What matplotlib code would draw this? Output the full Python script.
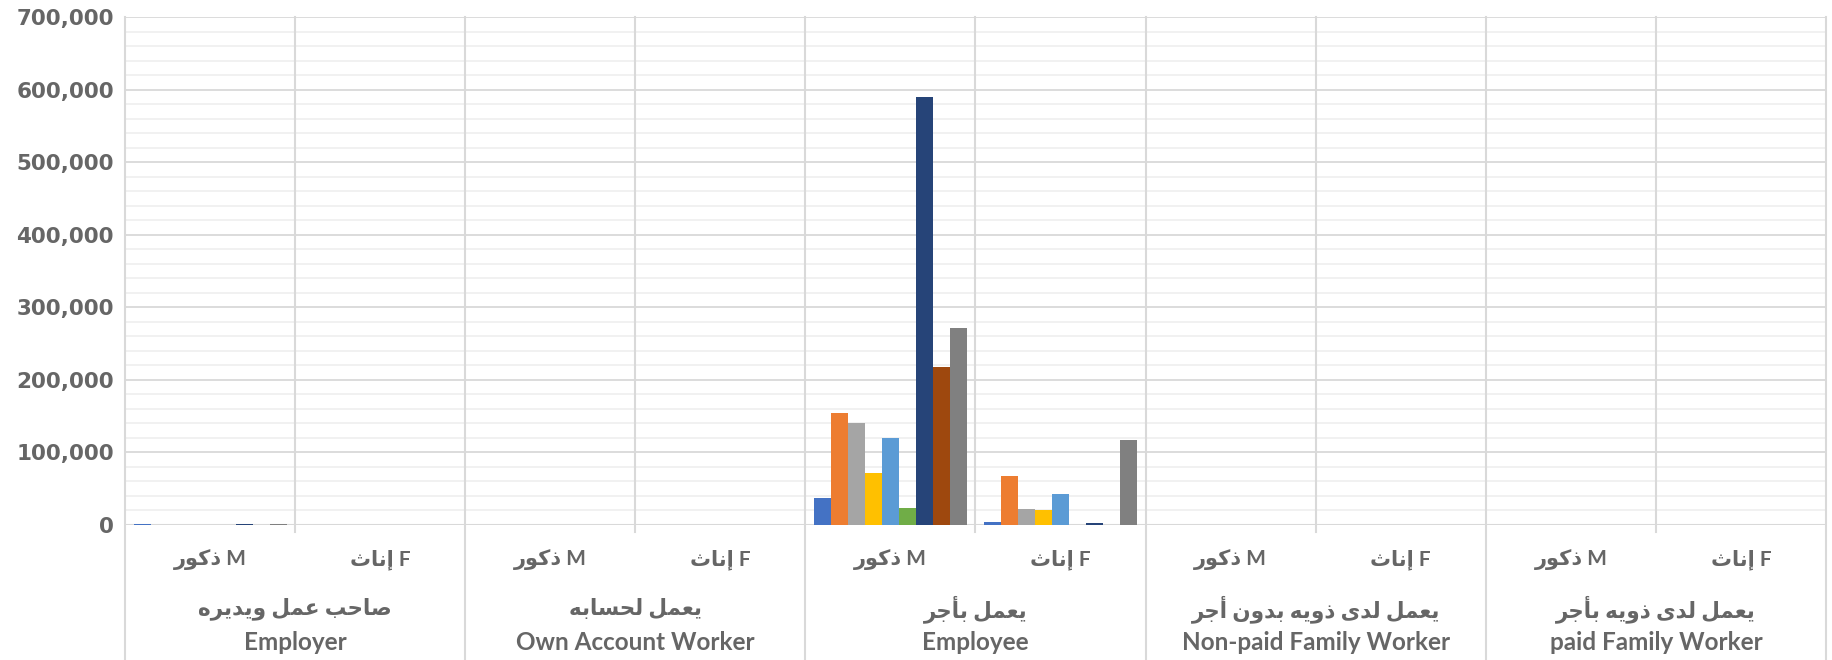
import matplotlib
matplotlib.use("Agg")
import matplotlib.pyplot as plt
import matplotlib.transforms as mtransforms
from matplotlib.ticker import FuncFormatter, MultipleLocator

# categories (two-level axis: status x sex)
categories_ar = ["صاحب عمل ويديره", "يعمل لحسابه", "يعمل بأجر",
                 "يعمل لدى ذويه بدون أجر", "يعمل لدى ذويه بأجر"]
categories_en = ["Employer", "Own Account Worker", "Employee",
                 "Non-paid Family Worker", "paid Family Worker"]
sex_ar = ["ذكور", "إناث"]
sex_en = ["M", "F"]

# one value per slot: Employer M, Employer F, Own M, Own F, Employee M, Employee F, ...
series_1 = [1800, 0, 0, 0, 37000, 3700, 0, 0, 0, 0]
series_2 = [0, 0, 0, 0, 155000, 67500, 0, 0, 0, 0]
series_3 = [0, 0, 0, 0, 141000, 22000, 0, 0, 0, 0]
series_4 = [0, 0, 0, 0, 71000, 20700, 0, 0, 0, 0]
series_5 = [0, 0, 0, 0, 120000, 42300, 0, 0, 0, 0]
series_6 = [0, 0, 0, 0, 23500, 0, 0, 0, 0, 0]
series_7 = [1300, 0, 0, 0, 590000, 2500, 0, 0, 0, 0]
series_8 = [0, 0, 0, 0, 218000, 0, 0, 0, 0, 0]
series_9 = [1300, 0, 0, 0, 271000, 116600, 0, 0, 0, 0]

all_series = [series_1, series_2, series_3, series_4, series_5,
              series_6, series_7, series_8, series_9]
colors = ["#4472C4", "#ED7D31", "#A5A5A5", "#FFC000", "#5B9BD5",
          "#70AD47", "#264478", "#9E480E", "#808080"]

# minimal arabic shaping (presentation forms) + visual reordering
FORMS = {
    'ا': (0xFE8D, 0xFE8E), 'أ': (0xFE83, 0xFE84), 'إ': (0xFE87, 0xFE88),
    'ب': (0xFE8F, 0xFE90, 0xFE91, 0xFE92), 'ث': (0xFE99, 0xFE9A, 0xFE9B, 0xFE9C),
    'ج': (0xFE9D, 0xFE9E, 0xFE9F, 0xFEA0), 'ح': (0xFEA1, 0xFEA2, 0xFEA3, 0xFEA4),
    'د': (0xFEA9, 0xFEAA), 'ذ': (0xFEAB, 0xFEAC), 'ر': (0xFEAD, 0xFEAE),
    'س': (0xFEB1, 0xFEB2, 0xFEB3, 0xFEB4), 'ص': (0xFEB9, 0xFEBA, 0xFEBB, 0xFEBC),
    'ع': (0xFEC9, 0xFECA, 0xFECB, 0xFECC), 'ك': (0xFED9, 0xFEDA, 0xFEDB, 0xFEDC),
    'ل': (0xFEDD, 0xFEDE, 0xFEDF, 0xFEE0), 'م': (0xFEE1, 0xFEE2, 0xFEE3, 0xFEE4),
    'ن': (0xFEE5, 0xFEE6, 0xFEE7, 0xFEE8), 'ه': (0xFEE9, 0xFEEA, 0xFEEB, 0xFEEC),
    'و': (0xFEED, 0xFEEE), 'ى': (0xFEEF, 0xFEF0),
    'ي': (0xFEF1, 0xFEF2, 0xFEF3, 0xFEF4),
}


def ar(text):
    out = []
    for i, ch in enumerate(text):
        f = FORMS.get(ch)
        if f is None:
            out.append(ch)
            continue
        prev = text[i - 1] if i > 0 else ''
        nxt = text[i + 1] if i < len(text) - 1 else ''
        jp = prev in FORMS and len(FORMS[prev]) == 4
        jn = nxt in FORMS and len(f) == 4
        if jp and jn:
            c = f[3]
        elif jp:
            c = f[1]
        elif jn:
            c = f[2]
        else:
            c = f[0]
        out.append(chr(c))
    return ''.join(out)[::-1]


FONT = ['Lato', 'DejaVu Sans']
TXT = '#666666'
GRID = '#D9D9D9'

fig = plt.figure(figsize=(18.33, 6.6), dpi=100)
ax = fig.add_axes([125 / 1833, 135 / 660, (1826 - 125) / 1833, (525 - 17) / 660])

n = len(all_series)
w = 0.9 / n
for k, (vals, col) in enumerate(zip(all_series, colors)):
    xs = [i + 0.05 + w * (k + 0.5) for i in range(len(vals))]
    ax.bar(xs, vals, width=w, color=col, zorder=3)

ax.set_xlim(0, 10)
ax.set_ylim(0, 700000)
ax.yaxis.set_major_locator(MultipleLocator(100000))
ax.yaxis.set_minor_locator(MultipleLocator(20000))
ax.yaxis.set_major_formatter(FuncFormatter(lambda v, p: f"{int(v):,}"))
ax.grid(axis='y', which='major', color=GRID, lw=1.3, zorder=0)
ax.grid(axis='y', which='minor', color='#F0F0F0', lw=1.3, zorder=0)
ax.tick_params(axis='y', which='both', length=0, pad=8)
ax.set_xticks([])
for s in ax.spines.values():
    s.set_visible(False)
for lab in ax.get_yticklabels():
    lab.set_fontfamily('DejaVu Sans')
    lab.set_fontweight('bold')
    lab.set_fontsize(15.5)
    lab.set_color(TXT)

trans = mtransforms.blended_transform_factory(ax.transData, ax.transAxes)
ax.axhline(0, color=GRID, lw=1.5, zorder=2)

# separators
for j in range(0, 11, 2):
    ax.plot([j, j], [1, -0.27], color=GRID, lw=1.5, transform=trans, clip_on=False, zorder=4)
for j in range(1, 10, 2):
    ax.plot([j, j], [1, -0.014], color=GRID, lw=1.5, transform=trans, clip_on=False, zorder=4)

# labels
for c in range(len(categories_en)):
    for s in range(2):
        x = 2 * c + s + 0.5
        ax.text(x, -0.068, ar(sex_ar[s]) + " " + sex_en[s], transform=trans,
                ha='center', va='center', fontsize=15, fontweight='bold',
                color=TXT, family=FONT)
    ax.text(2 * c + 1, -0.165, ar(categories_ar[c]), transform=trans,
            ha='center', va='center', fontsize=15.5, fontweight='bold',
            color=TXT, family=FONT)
    ax.text(2 * c + 1, -0.232, categories_en[c], transform=trans,
            ha='center', va='center', fontsize=17.5, fontweight='bold',
            color=TXT, family=FONT)

fig.savefig("out.png", dpi=100)
